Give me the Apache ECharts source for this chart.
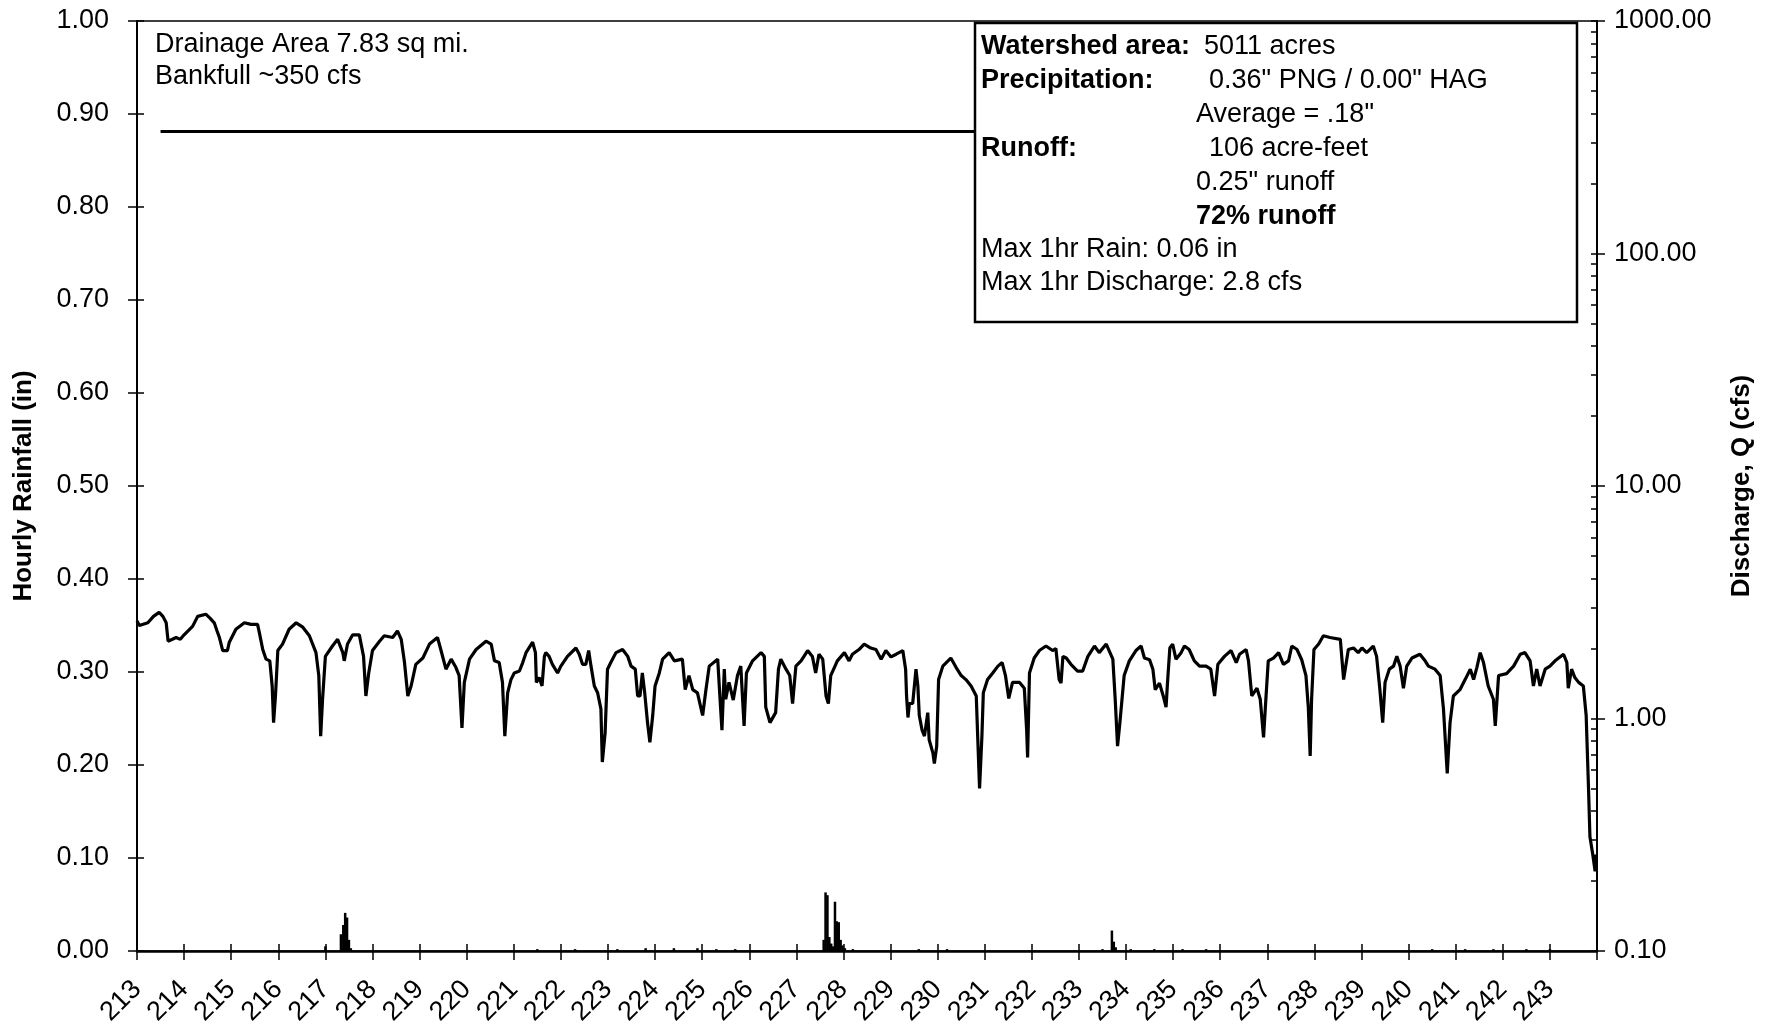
<!DOCTYPE html>
<html>
<head>
<meta charset="utf-8">
<script src="https://cdn.jsdelivr.net/npm/echarts@6/dist/echarts.min.js"></script>
<style>html,body{margin:0;padding:0;background:#fff;}#c{width:1776px;height:1029px;}</style>
</head>
<body>
<div id="c"></div>
<script>
// ---- data ----
const dayTicks = [213,214,215,216,217,218,219,220,221,222,223,224,225,226,227,228,229,230,231,232,233,234,235,236,237,238,239,240,241,242,243];
const rainTimes = [217.00,217.33,217.38,217.42,217.46,217.50,217.54,221.5,222.3,223.2,223.8,224.4,224.9,225.3,225.7,227.58,227.62,227.66,227.70,227.74,227.78,227.82,227.86,227.90,227.94,227.98,228.03,228.2,229.6,230.2,233.5,233.70,233.74,233.78,234.1,234.6,235.2,235.7,240.5,241.2,241.8,242.5,243.0];
const rainInches = [0.005,0.018,0.028,0.041,0.036,0.012,0.003,0.002,0.002,0.002,0.003,0.003,0.003,0.002,0.002,0.012,0.063,0.060,0.015,0.008,0.005,0.053,0.032,0.031,0.012,0.006,0.003,0.002,0.002,0.002,0.002,0.022,0.010,0.004,0.002,0.002,0.002,0.002,0.002,0.002,0.002,0.002,0.002];
const dischargeTime = [
213.00,213.05,213.23,213.35,213.47,213.55,213.62,213.66,213.83,213.92,214.00,214.18,214.29,214.46,214.55,214.64,214.70,214.75,214.82,214.92,214.96,
215.10,215.28,215.42,215.56,215.60,215.67,215.74,215.82,215.87,215.90,215.94,215.99,216.09,216.23,216.38,216.52,216.66,216.80,216.86,216.90,216.94,
217.00,217.15,217.26,217.37,217.40,217.47,217.58,217.72,217.81,217.86,217.92,218.00,218.15,218.25,218.43,218.53,218.61,218.68,218.75,218.82,218.92,
219.07,219.21,219.38,219.45,219.56,219.67,219.77,219.84,219.90,219.95,220.06,220.20,220.41,220.52,220.59,220.69,220.76,220.81,
220.87,220.94,221.01,221.12,221.19,221.26,221.40,221.46,221.48,221.54,221.60,221.65,221.68,221.75,221.82,221.93,222.00,222.14,222.32,222.39,222.46,
222.53,222.59,222.64,222.71,222.78,222.85,222.88,222.94,222.99,223.06,223.17,223.31,223.42,223.49,223.58,223.63,223.68,223.73,223.78,223.84,223.89,
223.95,224.00,224.09,224.16,224.30,224.41,224.58,224.64,224.72,224.80,224.90,225.01,225.08,225.15,225.33,225.38,225.42,225.47,225.50,225.57,225.66,
225.75,225.82,225.89,225.94,226.07,226.25,226.32,226.35,226.44,226.56,226.62,226.67,226.78,226.86,226.92,226.99,227.10,227.24,227.34,227.41,227.48,
227.56,227.63,227.68,227.73,227.87,228.02,228.12,228.19,228.33,228.44,228.58,228.69,
228.80,228.90,229.01,229.12,229.26,229.32,229.34,229.37,229.40,229.47,229.54,229.58,229.61,229.67,229.72,229.79,229.82,229.90,229.93,229.98,230.02,
230.11,230.28,230.39,230.50,230.60,230.71,230.82,230.85,230.89,230.94,230.97,231.06,231.17,231.28,231.37,231.44,231.51,231.59,231.74,231.84,231.89,
231.91,231.95,232.05,232.16,232.30,232.44,232.51,232.58,232.62,232.66,232.73,232.83,232.97,233.08,233.19,233.33,233.43,233.58,233.72,233.77,233.82,
233.87,233.96,234.07,234.21,234.32,234.39,234.50,234.57,234.62,234.71,234.79,234.85,234.88,234.93,234.99,235.06,235.17,235.24,235.34,235.45,235.56,
235.70,235.80,235.88,235.95,236.09,236.23,236.34,236.41,236.55,
236.60,236.67,236.78,236.85,236.92,236.97,237.02,237.13,237.24,237.34,237.45,237.52,237.63,237.73,237.82,237.87,237.91,237.94,237.99,238.09,238.19,
238.33,238.55,238.62,238.65,238.72,238.83,238.93,239.01,239.11,239.25,239.32,239.39,239.45,239.50,239.59,239.68,239.75,239.82,239.89,239.96,240.07,
240.24,240.35,240.42,240.56,240.67,240.74,240.82,240.88,240.95,241.09,241.20,241.31,241.38,241.45,241.52,241.59,241.69,241.80,241.84,241.91,242.08,
242.23,242.37,242.47,242.58,242.65,242.72,242.79,242.90,243.00,243.11,243.29,243.36,243.39,243.46,243.53,243.61,243.71,243.77,243.82,243.85,243.91,
243.96,243.98];
const dischargeCfs = [
2.63,2.51,2.58,2.75,2.86,2.75,2.58,2.15,2.23,2.19,2.29,2.49,2.75,2.81,2.70,2.58,2.38,2.23,1.96,1.96,2.13,
2.42,2.58,2.54,2.54,2.33,1.98,1.80,1.77,1.38,0.96,1.25,1.96,2.09,2.42,2.58,2.47,2.27,1.92,1.53,0.84,1.21,
1.85,2.05,2.19,1.92,1.77,2.09,2.29,2.29,1.85,1.25,1.57,1.96,2.15,2.27,2.23,2.38,2.19,1.74,1.25,1.38,1.71,
1.82,2.09,2.23,1.98,1.63,1.80,1.66,1.53,0.91,1.43,1.80,1.98,2.15,2.09,1.77,1.74,1.43,0.84,
1.29,1.47,1.57,1.60,1.74,1.92,2.13,1.92,1.43,1.50,1.38,1.85,1.92,1.85,1.71,1.57,1.68,1.85,2.01,1.89,1.71,
1.71,1.96,1.68,1.38,1.29,1.10,0.65,0.87,1.63,1.74,1.92,1.98,1.85,1.68,1.63,1.25,1.25,1.57,1.29,0.96,0.79,
1.03,1.38,1.57,1.80,1.92,1.77,1.80,1.33,1.53,1.33,1.29,1.03,1.33,1.68,1.80,1.21,0.89,1.63,1.21,1.43,1.20,
1.53,1.68,0.93,1.57,1.77,1.92,1.85,1.12,0.96,1.06,1.63,1.80,1.63,1.53,1.16,1.68,1.77,1.96,1.85,1.57,1.89,
1.80,1.25,1.16,1.53,1.77,1.92,1.77,1.89,1.98,2.09,2.01,1.98,
1.80,1.96,1.84,1.89,1.96,1.63,1.25,1.01,1.16,1.16,1.63,1.38,1.03,0.89,0.84,1.06,0.81,0.71,0.64,0.76,1.47,
1.68,1.82,1.66,1.53,1.47,1.38,1.25,0.84,0.50,0.84,1.29,1.47,1.57,1.68,1.74,1.53,1.22,1.43,1.43,1.35,0.89,
0.68,1.57,1.82,1.96,2.05,1.96,2.00,1.47,1.42,1.85,1.82,1.71,1.60,1.60,1.85,2.05,1.92,2.09,1.80,1.21,0.76,
0.96,1.53,1.77,1.96,2.05,1.82,1.79,1.63,1.33,1.42,1.25,1.12,1.42,2.01,2.09,1.80,1.92,2.05,1.98,1.77,1.68,
1.68,1.63,1.25,1.71,1.85,1.96,1.74,1.89,1.98,
1.77,1.25,1.35,1.21,0.83,1.22,1.77,1.82,1.92,1.71,1.77,2.05,1.98,1.79,1.53,1.12,0.69,1.21,1.98,2.09,2.27,
2.23,2.19,1.47,1.45,1.98,2.01,1.92,2.01,1.92,2.05,1.85,1.33,0.96,1.43,1.63,1.68,1.85,1.68,1.35,1.68,1.82,
1.89,1.77,1.68,1.63,1.53,1.10,0.58,0.96,1.25,1.33,1.47,1.63,1.47,1.66,1.92,1.74,1.38,1.21,0.93,1.53,1.56,
1.68,1.89,1.92,1.77,1.38,1.63,1.38,1.63,1.68,1.77,1.89,1.74,1.35,1.63,1.50,1.43,1.38,1.03,0.50,0.31,0.26,
0.22,0.26];
const bankfullCfs = 335;
const bankfullSpan = [213.5, 240];
const rightMajorTicks = [0.1,1,10,100,1000];

// minor log ticks (axis decoration, not data)
const rightMinorTicks = [];
for (let d = 0.1; d < 1000; d *= 10) { for (let k = 1; k < 10; k++) rightMinorTicks.push(+(d*k).toPrecision(3)); }
rightMinorTicks.push(1000);

const FONT = "'Liberation Sans', Arial, sans-serif";
const FS = 27;
const chart = echarts.init(document.getElementById('c'));

const dischargeData = dischargeTime.map((t,i)=>[t, dischargeCfs[i]]);
const rainData = rainTimes.map((t,i)=>[t, rainInches[i]]);

const boxX = 975, boxY = 23, boxW = 602, boxH = 299;
const c1 = 981, c2 = 1196;
function txt(x, y, s, bold) {
  return {type:'text', z: 110, left: x, top: y - 15,
    style:{text:s, x:0, y:0, fill:'#000', font:(bold?'bold ':'') + FS + 'px ' + FONT, textVerticalAlign:'top'}};
}

chart.setOption({
  animation:false,
  backgroundColor:'#fff',
  grid:{left:137, right:179, top:21, bottom:78, show:true, borderColor:'#000', borderWidth:1.5, containLabel:false},
  xAxis:[
    {type:'value', min:213, max:244, interval:1, position:'bottom',
     axisLine:{show:true, onZero:false, lineStyle:{color:'#000', width:2.5}},
     axisTick:{show:true, length:9, lineStyle:{color:'#000', width:1.5}},
     axisLabel:{show:true, rotate:45, margin:34, color:'#000', fontFamily:FONT, fontSize:FS,
       formatter:v => dayTicks.indexOf(Math.round(v)) >= 0 ? String(Math.round(v)) : ''},
     splitLine:{show:false}},
    {type:'value', min:213, max:244, interval:1, position:'bottom',
     axisLine:{show:false}, axisTick:{show:true, inside:true, length:7, lineStyle:{color:'#000', width:1.5}},
     axisLabel:{show:false}, splitLine:{show:false}}
  ],
  yAxis:[
    {type:'value', min:0, max:1, interval:0.1, position:'left',
     axisLine:{show:true, onZero:false, lineStyle:{color:'#000', width:2}},
     axisTick:{show:true, length:9, lineStyle:{color:'#000', width:1.5}},
     axisLabel:{color:'#000', fontFamily:FONT, fontSize:FS, margin:28, formatter:v=>v.toFixed(2)},
     splitLine:{show:false},
     name:'Hourly Rainfall (in)', nameLocation:'middle', nameGap:100, nameRotate:90,
     nameTextStyle:{color:'#000', fontFamily:FONT, fontSize:26, fontWeight:'bold'}},
    {type:'log', logBase:10, min:0.1, max:1000, position:'right',
     axisLine:{show:true, onZero:false, lineStyle:{color:'#000', width:2}},
     axisTick:{show:true, length:8, customValues:rightMajorTicks, lineStyle:{color:'#000', width:1.5}},
     axisLabel:{color:'#000', fontFamily:FONT, fontSize:FS, margin:17, customValues:rightMajorTicks, formatter:v=>Number(v).toFixed(2)},
     splitLine:{show:false},
     name:'Discharge, Q (cfs)', nameLocation:'middle', nameGap:132, nameRotate:90,
     nameTextStyle:{color:'#000', fontFamily:FONT, fontSize:26, fontWeight:'bold'}},
    {type:'log', logBase:10, min:0.1, max:1000, position:'right',
     axisLine:{show:false}, axisLabel:{show:false}, splitLine:{show:false},
     axisTick:{show:true, inside:true, length:6, customValues:rightMinorTicks, lineStyle:{color:'#000', width:1.5}}},
    {type:'value', min:0, max:1, interval:0.1, position:'left',
     axisLine:{show:false}, axisLabel:{show:false}, splitLine:{show:false},
     axisTick:{show:true, inside:true, length:7, lineStyle:{color:'#000', width:1.5}}}
  ],
  series:[
    {name:'Rain', type:'bar', xAxisIndex:0, yAxisIndex:0, data:rainData, barWidth:2.5,
     itemStyle:{color:'#000'}, z:3},
    {name:'Bankfull', type:'line', xAxisIndex:0, yAxisIndex:1, symbol:'none',
     data:[[bankfullSpan[0], bankfullCfs],[bankfullSpan[1], bankfullCfs]],
     lineStyle:{color:'#000', width:3}, z:2},
    {name:'Discharge', type:'line', xAxisIndex:0, yAxisIndex:1, symbol:'none', data:dischargeData,
     lineStyle:{color:'#000', width:3.2}, z:4}
  ],
  graphic:[
    {type:'text', left:155, top:31, z:100, style:{text:'Drainage Area 7.83 sq mi.', fill:'#000', font:FS+'px '+FONT}},
    {type:'text', left:155, top:63, z:100, style:{text:'Bankfull ~350 cfs', fill:'#000', font:FS+'px '+FONT}},
    {type:'rect', z:105, shape:{x:boxX, y:boxY, width:boxW, height:boxH},
     style:{fill:'#fff', stroke:'#000', lineWidth:2.5}},
    txt(c1, 48, 'Watershed area:', true), txt(1204, 48, '5011 acres', false),
    txt(c1, 82, 'Precipitation:', true), txt(1209, 82, '0.36" PNG / 0.00" HAG', false),
    txt(c2, 116, 'Average = .18"', false),
    txt(c1, 150, 'Runoff:', true), txt(1209, 150, '106 acre-feet', false),
    txt(c2, 184, '0.25" runoff', false),
    txt(c2, 218, '72% runoff', true),
    txt(c1, 251, 'Max 1hr Rain: 0.06 in', false),
    txt(c1, 284, 'Max 1hr Discharge: 2.8 cfs', false)
  ]
});
</script>
</body>
</html>
